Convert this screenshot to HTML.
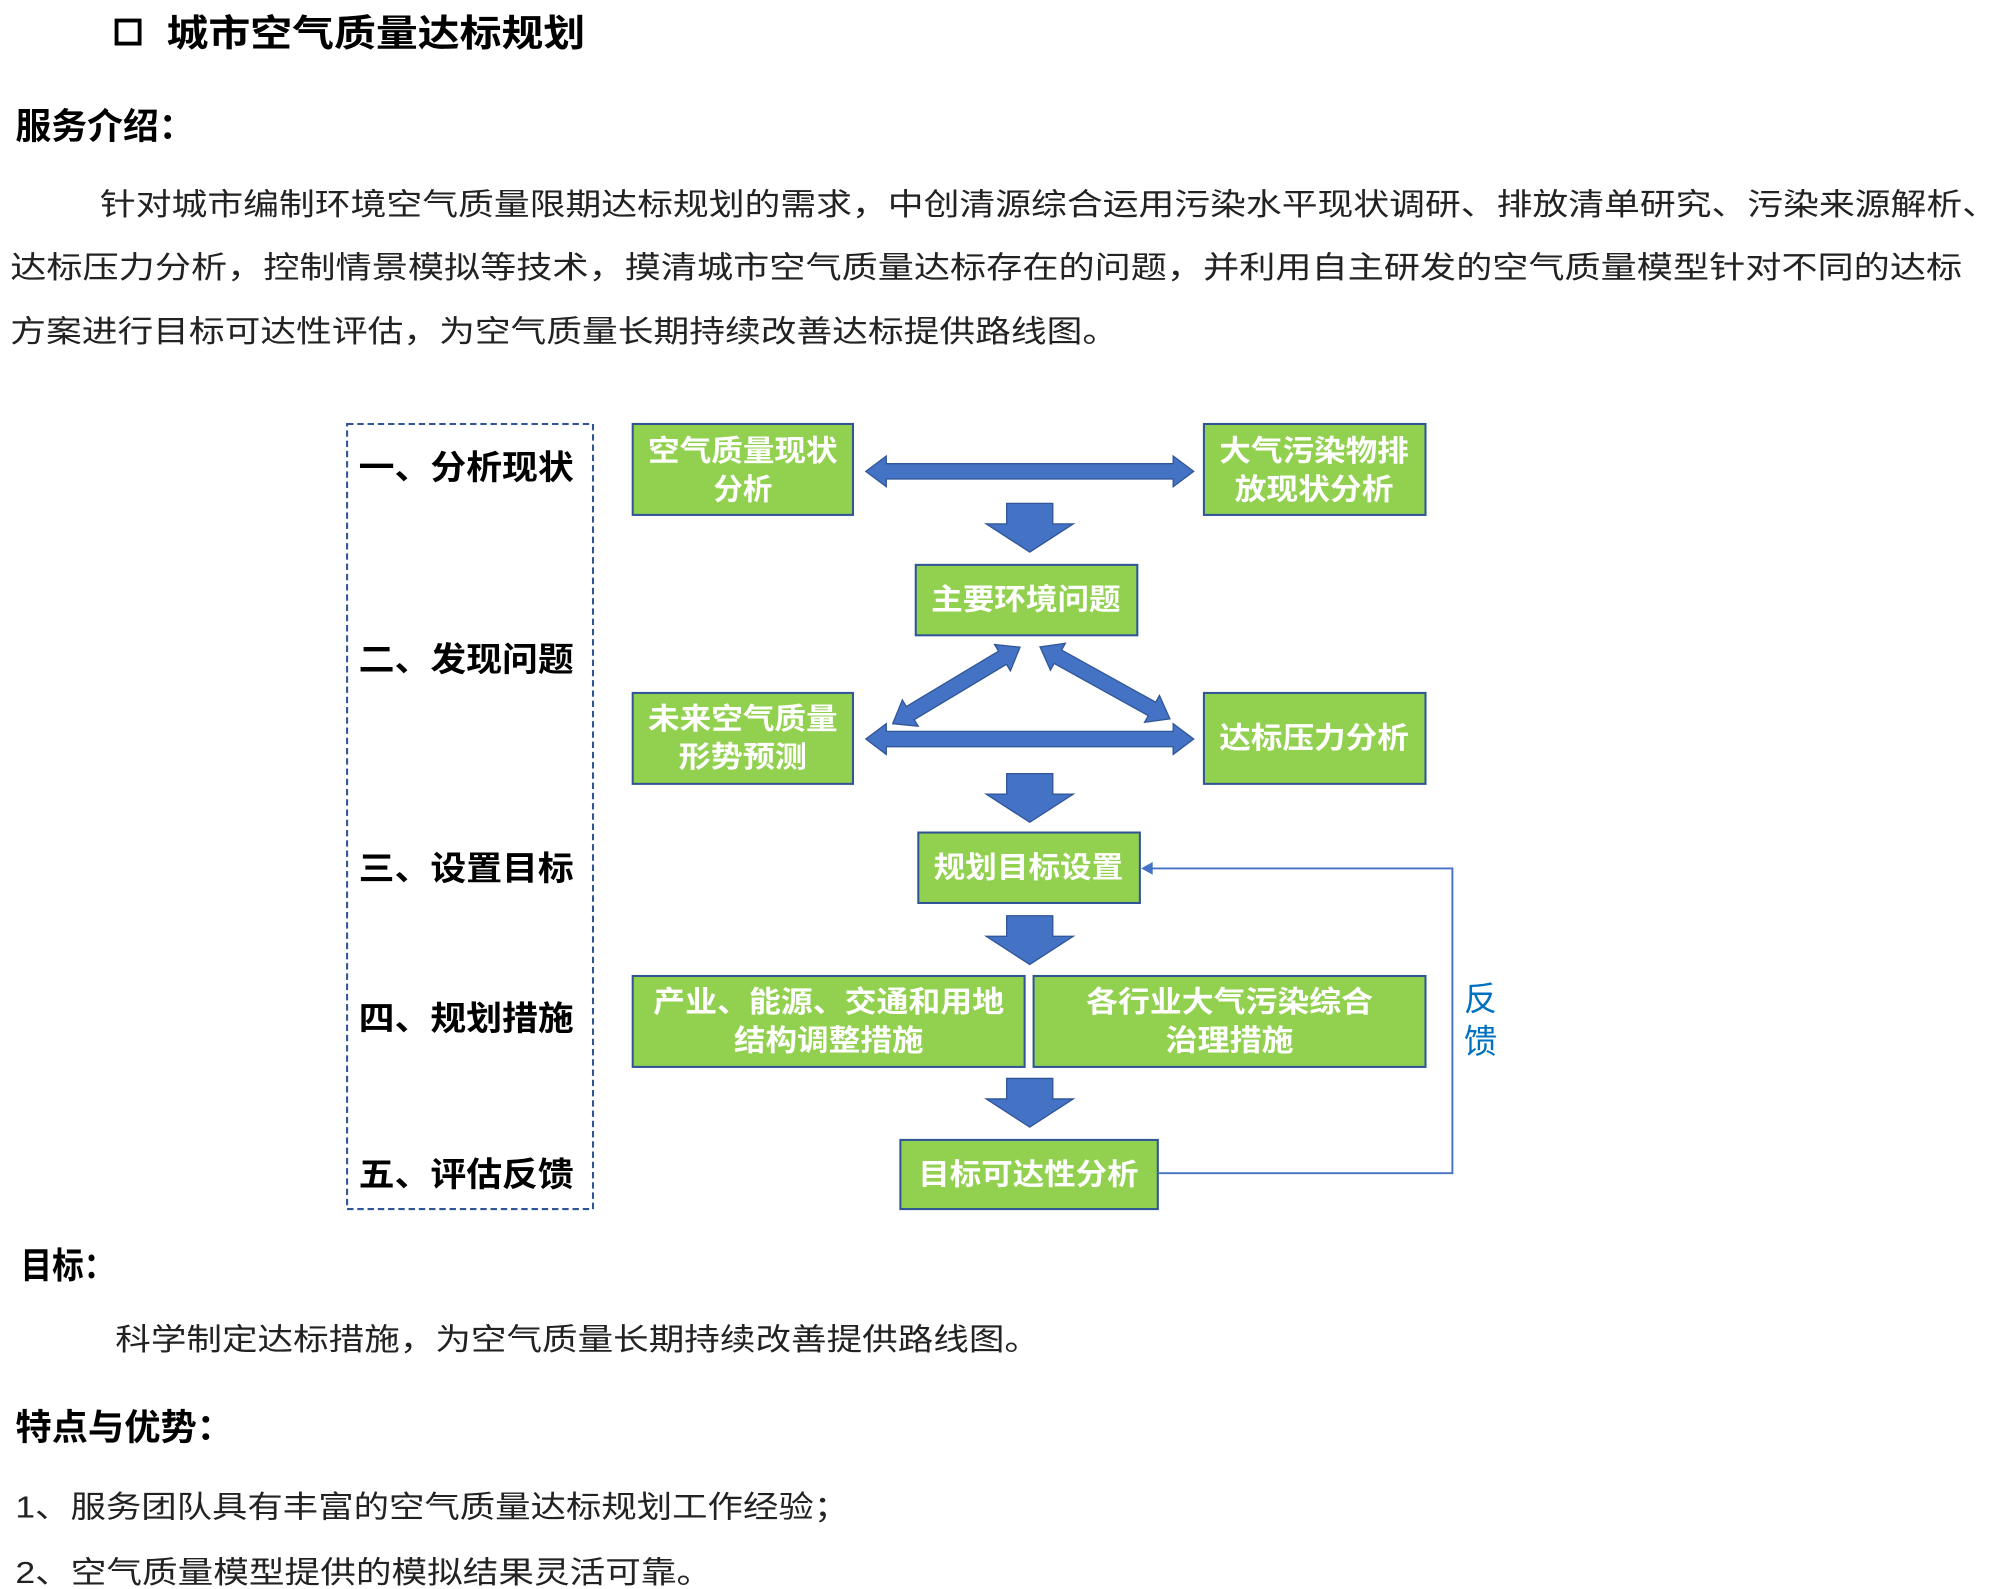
<!DOCTYPE html>
<html><head><meta charset="utf-8"><style>
html,body{margin:0;padding:0;background:#fff;}
svg{display:block;}
text{font-family:"Liberation Sans","Noto Sans CJK SC",sans-serif;}
</style></head><body>
<svg width="1998" height="1589" viewBox="0 0 1560 1240.6" xmlns="http://www.w3.org/2000/svg">
<defs>
<g id="dn"><polygon points="786,393 822,393 822,409 838,409 804,431 770,409 786,409" fill="#4472c4" stroke="#2f5597" stroke-width="1"/></g>
<g id="dbl"><polygon points="676,0 692,-12 692,-6 916,-6 916,-12 932,0 916,12 916,6 692,6 692,12" fill="#4472c4" stroke="#2f5597" stroke-width="1"/></g>
</defs>
<rect x="91" y="16" width="18" height="18" fill="none" stroke="#000" stroke-width="3"/>
<text x="130" y="36" font-size="29" font-weight="bold" textLength="327" lengthAdjust="spacingAndGlyphs">城市空气质量达标规划</text>
<text x="12" y="108" font-size="28" font-weight="bold" textLength="140" lengthAdjust="spacingAndGlyphs">服务介绍：</text>
<g font-size="24" fill="#222">
<text x="78" y="168" textLength="1482" lengthAdjust="spacingAndGlyphs">针对城市编制环境空气质量限期达标规划的需求，中创清源综合运用污染水平现状调研、排放清单研究、污染来源解析、</text>
<text x="8" y="217" textLength="1524" lengthAdjust="spacingAndGlyphs">达标压力分析，控制情景模拟等技术，摸清城市空气质量达标存在的问题，并利用自主研发的空气质量模型针对不同的达标</text>
<text x="8" y="267" textLength="865" lengthAdjust="spacingAndGlyphs">方案进行目标可达性评估，为空气质量长期持续改善达标提供路线图。</text>
</g>
<rect x="271" y="331" width="192" height="613" fill="none" stroke="#2f5597" stroke-width="1.6" stroke-dasharray="5,3"/>
<g font-size="26" font-weight="bold">
<text x="280" y="374" textLength="168" lengthAdjust="spacingAndGlyphs">一、分析现状</text>
<text x="280" y="524" textLength="168" lengthAdjust="spacingAndGlyphs">二、发现问题</text>
<text x="280" y="687" textLength="168" lengthAdjust="spacingAndGlyphs">三、设置目标</text>
<text x="280" y="804" textLength="168" lengthAdjust="spacingAndGlyphs">四、规划措施</text>
<text x="280" y="926" textLength="168" lengthAdjust="spacingAndGlyphs">五、评估反馈</text>
</g>
<g fill="#92d050" stroke="#2f5597" stroke-width="1.6">
<rect x="494" y="331" width="172" height="71"/>
<rect x="940" y="331" width="173" height="71"/>
<rect x="715" y="441" width="173" height="55"/>
<rect x="494" y="541" width="172" height="71"/>
<rect x="940" y="541" width="173" height="71"/>
<rect x="717" y="650" width="173" height="55"/>
<rect x="494" y="762" width="306" height="71"/>
<rect x="807" y="762" width="306" height="71"/>
<rect x="703" y="890" width="201" height="54"/>
</g>
<g font-size="23" font-weight="bold" fill="#fff" text-anchor="middle" lengthAdjust="spacingAndGlyphs">
<text x="580" y="360" textLength="148" lengthAdjust="spacingAndGlyphs">空气质量现状</text><text x="580" y="390">分析</text>
<text x="1026" y="360" textLength="148" lengthAdjust="spacingAndGlyphs">大气污染物排</text><text x="1026" y="390" textLength="124" lengthAdjust="spacingAndGlyphs">放现状分析</text>
<text x="801" y="476" textLength="148" lengthAdjust="spacingAndGlyphs">主要环境问题</text>
<text x="580" y="569" textLength="148" lengthAdjust="spacingAndGlyphs">未来空气质量</text><text x="580" y="599" textLength="100" lengthAdjust="spacingAndGlyphs">形势预测</text>
<text x="1026" y="584" textLength="148" lengthAdjust="spacingAndGlyphs">达标压力分析</text>
<text x="803" y="685" textLength="148" lengthAdjust="spacingAndGlyphs">规划目标设置</text>
<text x="647" y="790" textLength="274" lengthAdjust="spacingAndGlyphs">产业、能源、交通和用地</text><text x="647" y="820" textLength="148" lengthAdjust="spacingAndGlyphs">结构调整措施</text>
<text x="960" y="790" textLength="224" lengthAdjust="spacingAndGlyphs">各行业大气污染综合</text><text x="960" y="820" textLength="100" lengthAdjust="spacingAndGlyphs">治理措施</text>
<text x="803" y="925" textLength="172" lengthAdjust="spacingAndGlyphs">目标可达性分析</text>
</g>
<use href="#dbl" transform="translate(0,368)"/>
<use href="#dbl" transform="translate(0,577)"/>
<use href="#dn"/>
<use href="#dn" transform="translate(0,211)"/>
<use href="#dn" transform="translate(0,322)"/>
<use href="#dn" transform="translate(0,449)"/>
<polygon points="0,0 16,-12 16,-6 100,-6 100,-12 116,0 100,12 100,6 16,6 16,12" fill="#4472c4" stroke="#2f5597" stroke-width="1" transform="translate(697,565) rotate(-31)"/>
<polygon points="0,0 16,-12 16,-6 100,-6 100,-12 116,0 100,12 100,6 16,6 16,12" fill="#4472c4" stroke="#2f5597" stroke-width="1" transform="translate(812,505) rotate(29)"/>
<polyline points="904,916 1134,916 1134,678 898,678" fill="none" stroke="#4472c4" stroke-width="1.5"/>
<polygon points="891,678 900,673 900,683" fill="#4472c4"/>
<text x="1143" y="789" font-size="26" fill="#0070c0">反</text>
<text x="1143" y="822" font-size="26" fill="#0070c0">馈</text>
<text x="16" y="998" font-size="28" font-weight="bold" textLength="74" lengthAdjust="spacingAndGlyphs">目标：</text>
<text x="90" y="1054" font-size="24" fill="#222" textLength="722" lengthAdjust="spacingAndGlyphs">科学制定达标措施，为空气质量长期持续改善提供路线图。</text>
<text x="12" y="1124" font-size="28" font-weight="bold" textLength="170" lengthAdjust="spacingAndGlyphs">特点与优势：</text>
<text x="12" y="1185" font-size="24" fill="#222" textLength="651" lengthAdjust="spacingAndGlyphs">1、服务团队具有丰富的空气质量达标规划工作经验；</text>
<text x="12" y="1236" font-size="24" fill="#222" textLength="544" lengthAdjust="spacingAndGlyphs">2、空气质量模型提供的模拟结果灵活可靠。</text>
</svg>
</body></html>
